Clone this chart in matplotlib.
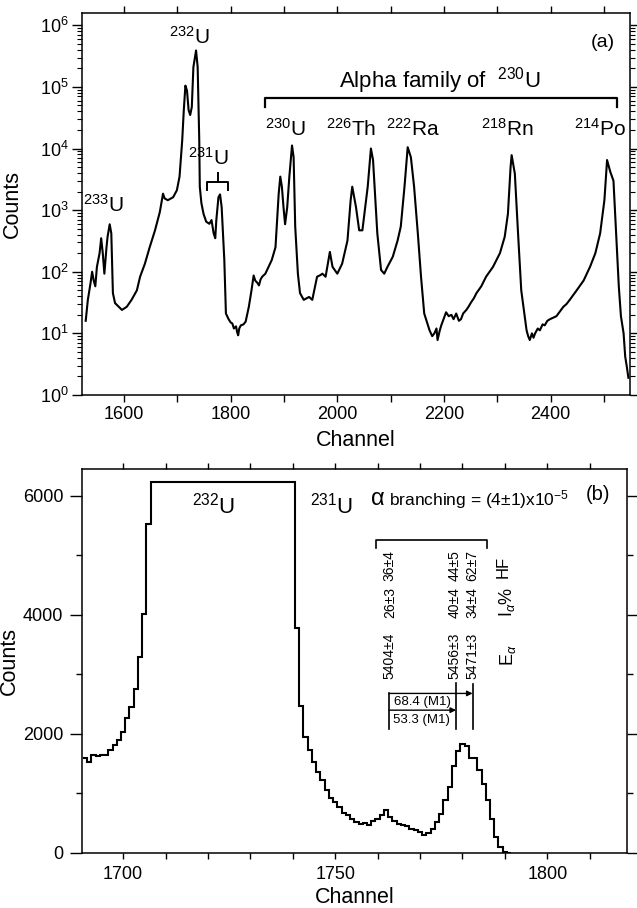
import numpy as np
import matplotlib
matplotlib.use("Agg")
import matplotlib.pyplot as plt
from matplotlib.ticker import MultipleLocator, LogLocator, NullFormatter, FixedLocator

plt.rcParams.update({
    'font.family': ['Liberation Sans', 'DejaVu Sans'],
    'mathtext.fontset': 'custom',
    'mathtext.rm': 'Liberation Sans',
    'mathtext.it': 'Liberation Sans:italic',
    'mathtext.bf': 'Liberation Sans:bold',
    'axes.linewidth': 1.1,
    'xtick.direction': 'out',
    'ytick.direction': 'out',
    'xtick.labelsize': 13,
    'ytick.labelsize': 13,
    'axes.labelsize': 15.5,
})

# ---- (a) full spectrum, log scale: channel vs counts
chan_a = [1528, 1532, 1537, 1540, 1543, 1546, 1549, 1554, 1557, 1560, 1563, 1567, 1569,
          1573, 1576, 1579, 1583, 1590, 1596, 1605, 1614, 1624, 1630, 1639, 1648, 1658,
          1667, 1673, 1676, 1682, 1692, 1699, 1704, 1709, 1712, 1715, 1718, 1721, 1724,
          1727, 1730, 1735, 1738, 1741, 1742, 1745, 1749, 1754, 1760, 1764, 1768, 1771,
          1773, 1777, 1780, 1783, 1788, 1791, 1796, 1800, 1803, 1806, 1810, 1812, 1814,
          1816, 1819, 1824, 1828,
          1834, 1839, 1843, 1846, 1850, 1853, 1856, 1859, 1865, 1871, 1877, 1884, 1890,
          1893, 1896, 1899, 1902, 1906, 1910, 1915, 1918, 1921, 1926, 1930, 1937, 1942,
          1947, 1953, 1962, 1968, 1972, 1978, 1986, 1991, 2000, 2009, 2019, 2025, 2028,
          2035, 2041, 2047, 2057, 2063, 2067, 2075, 2082, 2088, 2094, 2098, 2104, 2113,
          2119, 2126, 2132, 2138, 2144, 2151, 2157, 2163, 2173, 2178, 2182, 2186, 2188,
          2192, 2195, 2204, 2209, 2214, 2218, 2223, 2228, 2232, 2236, 2242, 2246, 2251,
          2256, 2261, 2270, 2279, 2292, 2305, 2314, 2320, 2325, 2327, 2333, 2339, 2345,
          2355, 2358, 2361, 2365, 2368, 2371, 2376, 2380, 2385, 2389, 2394, 2399, 2405,
          2411, 2418, 2424, 2430, 2436, 2449, 2462, 2474, 2484, 2493, 2501, 2506, 2512,
          2518, 2523, 2528, 2532, 2537, 2540, 2543, 2546]
counts_a = [16, 35, 65, 100, 72, 58, 120, 200, 350, 200, 93, 250, 370,
            590, 420, 45, 31, 27, 24, 27, 35, 50, 83, 135, 250, 470,
            930, 1850, 1550, 1450, 1620, 2100, 3500, 13500, 42000, 105000, 87000, 42000, 35000,
            47000, 210000, 390000, 210000, 13500, 2400, 1300, 870, 650, 600, 690, 420, 350,
            690, 1620, 1800, 1120, 155, 21, 17, 15, 14.5, 12, 13, 10.5, 9.3,
            12, 13.5, 14, 15.5,
            27, 50, 87, 72, 66, 60, 75, 83, 93, 120, 155, 250, 1850,
            3500, 2400, 1120, 590, 1120, 3500, 11200, 7200, 540, 93, 45, 35, 37,
            39, 35, 83, 88, 93, 83, 210, 120, 93, 135, 320, 1450, 2400,
            1120, 470, 470, 2400, 10000, 6500, 420, 107, 93, 120, 140, 175, 320,
            540, 2400, 10500, 7200, 2400, 420, 83, 21, 11.2, 9, 10, 12, 7.8,
            11, 13.5, 22, 19, 20, 17, 21, 16, 17, 21, 24, 27, 32,
            37, 45, 58, 83, 120, 200, 370, 870, 5000, 7800, 3900, 420, 50,
            11.2, 9, 7.8, 10, 8.5, 10, 12, 11.2, 14, 13.5, 16, 17, 18,
            19, 23, 27, 30, 35, 50, 72, 120, 200, 420, 1450, 6500, 4200,
            3000, 420, 58, 19, 10, 4.2, 2.9, 1.9]

# ---- (b) region around 232U / 231U, linear scale, one value per channel
chan_b = list(range(1691, 1792))
counts_b = [1597, 1530, 1642, 1636, 1645, 1650, 1738, 1811, 1906, 2034,
            2269, 2450, 2750, 3295, 4015, 5530,
            6235, 6235, 6235, 6235, 6235, 6235, 6235, 6235, 6235, 6235,
            6235, 6235, 6235, 6235, 6235, 6235, 6235, 6235, 6235, 6235,
            6235, 6235, 6235, 6235, 6235, 6235, 6235, 6235, 6235, 6235,
            6235, 6235, 6235, 6235,
            3785, 2466, 1955, 1726, 1530, 1362, 1222, 1066, 925, 857,
            773, 672, 634, 578, 521, 494, 504, 466, 538, 578,
            634, 718, 605, 538, 494, 465, 449, 410, 382, 360,
            298, 336, 410, 521, 662, 897, 1110, 1457, 1715, 1827,
            1793, 1603, 1603, 1390, 1166, 886, 578, 269, 101, 17, 5]

# isotope labels of panel (a)
iso_a = ["$^{233}$U", "$^{232}$U", "$^{231}$U", "$^{230}$U",
         "$^{226}$Th", "$^{222}$Ra", "$^{218}$Rn", "$^{214}$Po"]

# alpha lines of 231U: energy, intensity, hindrance factor
e_alpha = ["5404±4", "5456±3", "5471±3"]
i_alpha = ["26±3", "40±4", "34±4"]
hf = ["36±4", "44±5", "62±7"]
gamma_lbl = ["68.4 (M1)", "53.3 (M1)"]

fig = plt.figure(figsize=(6.37, 9.08), dpi=100)
ax1 = fig.add_axes([0.1287, 0.5650, 0.8603, 0.4210])
ax2 = fig.add_axes([0.1287, 0.0606, 0.8556, 0.4229])

# =============================================================================
# (a)
# =============================================================================
ax1.plot(chan_a, counts_a, color="k", lw=1.5)
ax1.set_yscale("log")
ax1.set_xlim(1521, 2549)
ax1.set_ylim(1, 1.6e6)
ax1.xaxis.set_major_locator(MultipleLocator(200))
ax1.xaxis.set_minor_locator(MultipleLocator(100))
ax1.yaxis.set_major_locator(LogLocator(base=10, numticks=10))
ax1.yaxis.set_minor_locator(LogLocator(base=10, subs=np.arange(2, 10), numticks=20))
ax1.yaxis.set_minor_formatter(NullFormatter())
ax1.tick_params(axis="x", which="both", length=5, width=1, top=True, pad=3)
ax1.tick_params(axis="y", which="major", length=7.5, width=1, right=True, pad=2)
ax1.tick_params(axis="y", which="minor", length=3.5, width=0.8, right=True)
ax1.set_xlabel("Channel")
ax1.set_ylabel("Counts")
ax1.xaxis.set_label_coords(0.5, -0.092)
ax1.yaxis.set_label_coords(-0.108, 0.5)

fs = 15
ax1.text(1561.5, 930, iso_a[0], ha="center", va="baseline", fontsize=fs)
ax1.text(1723, 5.0e5, iso_a[1], ha="center", va="baseline", fontsize=fs)
ax1.text(1757.7, 5350, iso_a[2], ha="center", va="baseline", fontsize=fs)
ax1.text(1903, 16300, iso_a[3], ha="center", va="baseline", fontsize=fs)
ax1.text(2026.7, 16300, iso_a[4], ha="center", va="baseline", fontsize=fs)
ax1.text(2142, 16300, iso_a[5], ha="center", va="baseline", fontsize=fs)
ax1.text(2319, 16300, iso_a[6], ha="center", va="baseline", fontsize=fs)
ax1.text(2493, 16300, iso_a[7], ha="center", va="baseline", fontsize=fs)
ax1.text(2192.5, 97000, "Alpha family of  $^{230}$U", ha="center", va="baseline", fontsize=16)
ax1.text(2498, 5.3e5, "(a)", ha="center", va="center", fontsize=14)

# bracket over the 230U family
ax1.plot([1863.5, 1863.5, 2524, 2524], [48000, 66000, 66000, 48000], color="k", lw=1.6)
# bracket under 231U label
ax1.plot([1756.4, 1756.4, 1794.7, 1794.7], [2160, 2865, 2865, 2160], color="k", lw=1.4)
ax1.plot([1776, 1776], [2865, 4010], color="k", lw=1.4)

# =============================================================================
# (b)
# =============================================================================
edges_b = np.append(np.array(chan_b) - 0.5, chan_b[-1] + 0.5)
ax2.stairs(counts_b, edges_b, baseline=None, color="k", lw=1.5)
ax2.set_xlim(1690.3, 1818.8)
ax2.set_ylim(0, 6450)
ax2.xaxis.set_major_locator(FixedLocator([1700, 1750, 1800]))
ax2.xaxis.set_minor_locator(MultipleLocator(10))
ax2.yaxis.set_major_locator(MultipleLocator(2000))
ax2.yaxis.set_minor_locator(MultipleLocator(1000))
ax2.tick_params(axis="x", which="both", length=4.5, width=1, top=True, pad=5)
ax2.tick_params(axis="y", which="major", length=8.5, width=1, right=True, pad=5)
ax2.tick_params(axis="y", which="minor", length=4.3, width=1, right=True)
ax2.set_xlabel("Channel")
ax2.set_ylabel("Counts")
ax2.xaxis.set_label_coords(0.5, -0.088)
ax2.yaxis.set_label_coords(-0.114, 0.5)

ax2.text(1721.4, 5705, "$^{232}$U", ha="center", va="baseline", fontsize=16)
ax2.text(1749.1, 5705, "$^{231}$U", ha="center", va="baseline", fontsize=16)
ax2.text(1760, 5845, "α", ha="center", va="baseline", fontsize=17)
ax2.text(1762.7, 5845, "branching = (4±1)x10$^{-5}$", ha="left", va="baseline", fontsize=12.5)
ax2.text(1812, 6013, "(b)", ha="center", va="center", fontsize=14.5)

# bracket over the alpha lines
ax2.plot([1759.7, 1759.7, 1785.9, 1785.9], [5117, 5256, 5256, 5117], color="k", lw=1.2)

col_x = [1762.9, 1778.2, 1782.4]
for i in range(3):
    ax2.text(col_x[i], 4836, hf[i], rotation=90, ha="center", va="center", fontsize=10)
    ax2.text(col_x[i], 4203, i_alpha[i], rotation=90, ha="center", va="center", fontsize=10)
    ax2.text(col_x[i], 3307, e_alpha[i], rotation=90, ha="center", va="center", fontsize=10)
ax2.text(1789.6, 4797, "HF", rotation=90, ha="center", va="center", fontsize=12)
ax2.text(1790.4, 4220, "I$_{\\alpha}$%", rotation=90, ha="center", va="center", fontsize=13)
ax2.text(1790.8, 3323, "E$_{\\alpha}$", rotation=90, ha="center", va="center", fontsize=13)

# level lines and gamma transitions
ax2.plot([1762.7, 1762.7], [2680, 2080], color="k", lw=1.2)
ax2.plot([1778.5, 1778.5], [2848, 2080], color="k", lw=1.2)
ax2.plot([1782.4, 1782.4], [2836, 2080], color="k", lw=1.2)
ax2.annotate("", xy=(1782.4, 2680), xytext=(1762.7, 2680),
             arrowprops=dict(arrowstyle="-|>", lw=1.0, color="k", shrinkA=0, shrinkB=0, mutation_scale=8))
ax2.annotate("", xy=(1778.5, 2399), xytext=(1762.7, 2399),
             arrowprops=dict(arrowstyle="-|>", lw=1.0, color="k", shrinkA=0, shrinkB=0, mutation_scale=8))
ax2.text(1770.5, 2538, gamma_lbl[0], ha="center", va="center", fontsize=9.5)
ax2.text(1770.4, 2231, gamma_lbl[1], ha="center", va="center", fontsize=9.5)

plt.savefig("out.png", dpi=100)
